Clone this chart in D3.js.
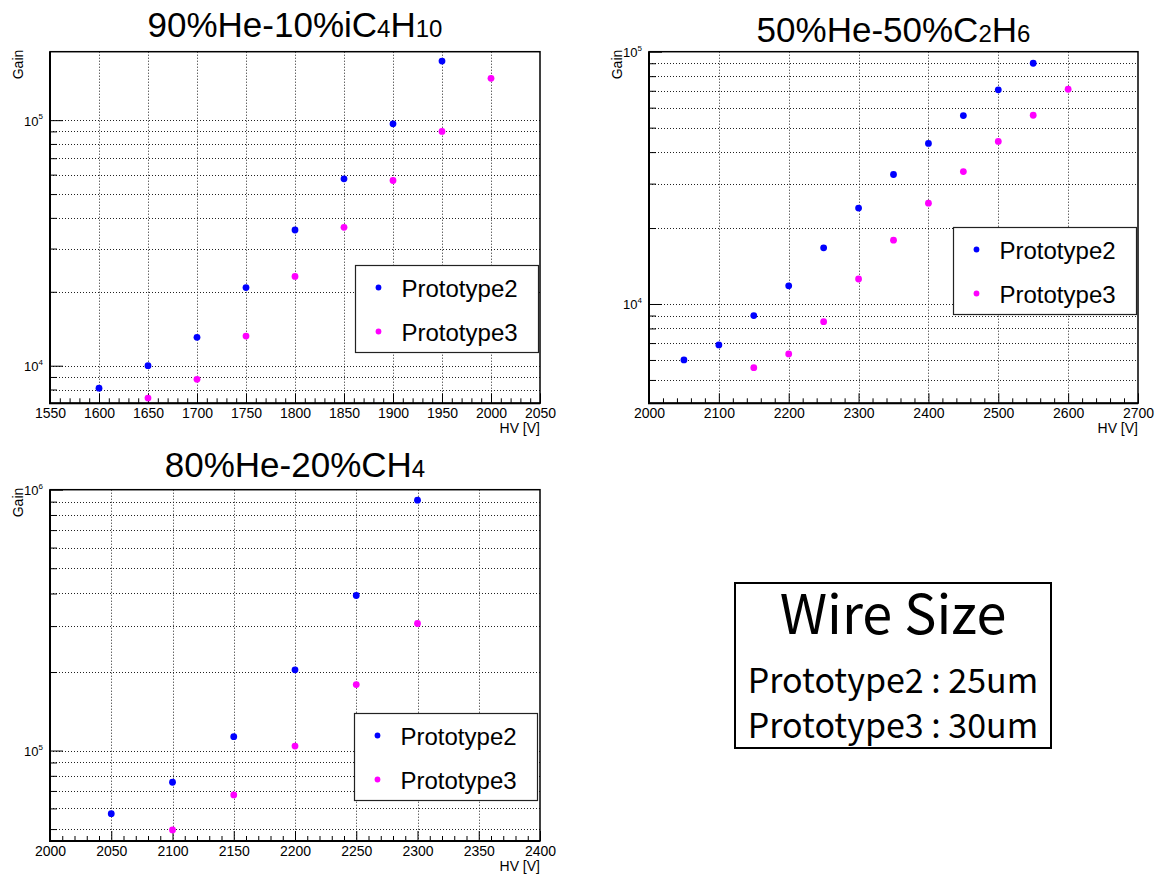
<!DOCTYPE html>
<html>
<head>
<meta charset="utf-8">
<script src="https://cdn.jsdelivr.net/npm/d3@7"></script>
<style>
  html, body { margin: 0; padding: 0; background: #fff; }
  svg { display: block; }
</style>
</head>
<body>
<svg id="chart" width="1163" height="878"></svg>
<script>
// ---- 90%He-10%iC4H10 ----
const hvIso2   = [1600, 1650, 1700, 1750, 1800, 1850, 1900, 1950];
const gainIso2 = [8.1e3, 1.0e4, 1.305e4, 2.08e4, 3.57e4, 5.77e4, 9.66e4, 1.74e5];
const hvIso3   = [1650, 1700, 1750, 1800, 1850, 1900, 1950, 2000];
const gainIso3 = [7.38e3, 8.8e3, 1.32e4, 2.31e4, 3.66e4, 5.68e4, 9.0e4, 1.48e5];

// ---- 50%He-50%C2H6 ----
const hvEth2   = [2050, 2100, 2150, 2200, 2250, 2300, 2350, 2400, 2450, 2500, 2550];
const gainEth2 = [6.0e3, 6.88e3, 9.0e3, 1.18e4, 1.67e4, 2.4e4, 3.26e4, 4.33e4, 5.58e4, 7.06e4, 9.0e4];
const hvEth3   = [2150, 2200, 2250, 2300, 2350, 2400, 2450, 2500, 2550, 2600];
const gainEth3 = [5.59e3, 6.34e3, 8.51e3, 1.256e4, 1.79e4, 2.51e4, 3.35e4, 4.41e4, 5.6e4, 7.1e4];

// ---- 80%He-20%CH4 ----
const hvMet2   = [2050, 2100, 2150, 2200, 2250, 2300];
const gainMet2 = [5.73e4, 7.56e4, 1.13e5, 2.04e5, 3.93e5, 9.12e5];
const hvMet3   = [2100, 2150, 2200, 2250, 2300];
const gainMet3 = [4.96e4, 6.76e4, 1.04e5, 1.79e5, 3.07e5];

// axis ranges and tick steps
const hvRangeIso = [1550, 2050], gainRangeIso = [7.03e3, 1.9e5], hvStepIso = [50, 10];
const hvRangeEth = [2000, 2700], gainRangeEth = [4.04e3, 1.0e5], hvStepEth = [100, 20];
const hvRangeMet = [2000, 2400], gainRangeMet = [4.5e4, 1.0e6], hvStepMet = [50, 10];

// series / legend labels
const seriesNames  = ["Prototype2", "Prototype3"];
const seriesColors = ["#0000ff", "#ff00ff"];

// note box text
const noteTitle = "Wire Size";
const noteLines = ["Prototype2 : 25um", "Prototype3 : 30um"];

const svg = d3.select("#chart");
const axisFont = "'Liberation Sans', Arial, Helvetica, sans-serif";
const noteFont = "'Noto Sans CJK JP', 'Liberation Sans', sans-serif";

function drawPanel(o) {
  const g = svg.append("g");
  const x = d3.scaleLinear().domain(o.hvRange).range([o.left, o.right]);
  const y = d3.scaleLog().domain(o.gainRange).range([o.bottom, o.top]);

  const [major, minor] = o.step;
  const majorX = d3.range(o.hvRange[0], o.hvRange[1] + 0.001, major);
  const allX = d3.range(o.hvRange[0], o.hvRange[1] + 0.001, minor);
  const minorX = allX.filter(v => (v - o.hvRange[0]) % major !== 0);
  const yTicks = y.ticks();
  const isDecade = v => Math.abs(Math.log10(v) - Math.round(Math.log10(v))) < 1e-9;
  const decades = yTicks.filter(isDecade);
  const yMinor = yTicks.filter(v => !isDecade(v));

  // white background
  g.append("rect").attr("x", o.left).attr("y", o.top)
    .attr("width", o.right - o.left).attr("height", o.bottom - o.top)
    .attr("fill", "#fff");

  // dotted grid
  const grid = g.append("g").attr("stroke", "#222").attr("stroke-width", 1)
    .attr("stroke-dasharray", "1,2");
  grid.selectAll("line.gx").data(majorX.filter(v => v > o.hvRange[0] && v < o.hvRange[1]))
    .join("line").attr("class", "gx")
    .attr("x1", d => Math.round(x(d)) + 0.5).attr("x2", d => Math.round(x(d)) + 0.5)
    .attr("y1", o.top).attr("y2", o.bottom);
  grid.selectAll("line.gy").data(yTicks.filter(v => y(v) > o.top + 1 && y(v) < o.bottom - 1))
    .join("line").attr("class", "gy")
    .attr("x1", o.left).attr("x2", o.right)
    .attr("y1", d => Math.round(y(d)) + 0.5).attr("y2", d => Math.round(y(d)) + 0.5);

  // x axis: minor ticks, then major ticks with labels
  const xMinorAxis = d3.axisBottom(x).tickValues(minorX).tickSize(-5).tickFormat("");
  const xMajorAxis = d3.axisBottom(x).tickValues(majorX).tickSize(-10).tickPadding(5)
    .tickFormat(d3.format("d"));
  const gxm = g.append("g").attr("transform", `translate(0,${o.bottom})`).call(xMinorAxis);
  const gxM = g.append("g").attr("transform", `translate(0,${o.bottom})`).call(xMajorAxis);
  [gxm, gxM].forEach(a => {
    a.select(".domain").remove();
    a.selectAll("line").attr("stroke", "#000").attr("stroke-width", 1);
  });
  gxM.selectAll("text").attr("font-family", axisFont).attr("font-size", 14).attr("fill", "#000");

  // y axis: minor ticks, then decade ticks with power-of-ten labels
  const yMinorAxis = d3.axisLeft(y).tickValues(yMinor).tickSize(-7).tickFormat("");
  const yMajorAxis = d3.axisLeft(y).tickValues(decades).tickSize(-13).tickPadding(7)
    .tickFormat("");
  const gym = g.append("g").attr("transform", `translate(${o.left},0)`).call(yMinorAxis);
  const gyM = g.append("g").attr("transform", `translate(${o.left},0)`).call(yMajorAxis);
  [gym, gyM].forEach(a => {
    a.select(".domain").remove();
    a.selectAll("line").attr("stroke", "#000").attr("stroke-width", 1);
  });
  gyM.selectAll(".tick text").each(function (d) {
    const t = d3.select(this)
      .attr("font-family", axisFont).attr("font-size", 13).attr("fill", "#000")
      .attr("dy", "0.38em");
    t.text("10");
    t.append("tspan").attr("font-size", 8).attr("dy", "-0.8em")
      .text(Math.round(Math.log10(d)));
  });

  // frame
  g.append("rect").attr("x", o.left).attr("y", o.top)
    .attr("width", o.right - o.left).attr("height", o.bottom - o.top)
    .attr("fill", "none").attr("stroke", "#000").attr("stroke-width", 1.5);
  g.append("path")
    .attr("d", `M${o.left},${o.top}V${o.bottom}H${o.right}`)
    .attr("fill", "none").attr("stroke", "#000").attr("stroke-width", 2);

  // axis titles
  g.append("text").attr("x", o.right).attr("y", o.bottom + 30)
    .attr("text-anchor", "end").attr("font-family", axisFont).attr("font-size", 14)
    .text("HV [V]");
  g.append("text")
    .attr("transform", `translate(${o.gainX},${o.top - 2}) rotate(-90)`)
    .attr("text-anchor", "end").attr("font-family", axisFont).attr("font-size", 14)
    .text("Gain");

  // data markers
  o.series.forEach((s, i) => {
    g.append("g").attr("fill", seriesColors[i])
      .selectAll("circle").data(d3.zip(s[0], s[1])).join("circle")
      .attr("cx", d => x(d[0])).attr("cy", d => y(d[1])).attr("r", 3.4);
  });

  // legend
  const lg = g.append("g");
  lg.append("rect").attr("x", o.legend[0]).attr("y", o.legend[1])
    .attr("width", 183).attr("height", 87)
    .attr("fill", "#fff").attr("stroke", "#222").attr("stroke-width", 1.2);
  seriesNames.forEach((name, i) => {
    const cy = o.legend[1] + 22 + i * 44;
    lg.append("circle").attr("cx", o.legend[0] + 23).attr("cy", cy).attr("r", 2.9)
      .attr("fill", seriesColors[i]);
    lg.append("text").attr("x", o.legend[0] + 46).attr("y", cy + 9)
      .attr("font-family", axisFont).attr("font-size", 24).attr("fill", "#000")
      .text(name);
  });

  // panel title with subscripts
  const tt = g.append("text").attr("x", (o.left + o.right) / 2).attr("y", o.titleY)
    .attr("text-anchor", "middle").attr("font-family", axisFont)
    .attr("font-size", 35).attr("fill", "#000");
  o.title.forEach(([txt, sub]) => {
    tt.append("tspan").attr("font-size", sub ? 24 : 35).text(txt);
  });
}

drawPanel({
  hvRange: hvRangeIso, gainRange: gainRangeIso, step: hvStepIso,
  left: 50, right: 540, top: 51.7, bottom: 403.3, gainX: 23,
  series: [[hvIso2, gainIso2], [hvIso3, gainIso3]],
  legend: [355.5, 265.5],
  title: [["90%He-10%iC", false], ["4", true], ["H", false], ["10", true]],
  titleY: 37
});

drawPanel({
  hvRange: hvRangeEth, gainRange: gainRangeEth, step: hvStepEth,
  left: 649, right: 1138, top: 51.7, bottom: 403.3, gainX: 622,
  series: [[hvEth2, gainEth2], [hvEth3, gainEth3]],
  legend: [953.5, 227.5],
  title: [["50%He-50%C", false], ["2", true], ["H", false], ["6", true]],
  titleY: 42
});

drawPanel({
  hvRange: hvRangeMet, gainRange: gainRangeMet, step: hvStepMet,
  left: 50, right: 540, top: 489.7, bottom: 841, gainX: 23,
  series: [[hvMet2, gainMet2], [hvMet3, gainMet3]],
  legend: [354.5, 713.5],
  title: [["80%He-20%CH", false], ["4", true]],
  titleY: 477
});

// note box
const note = svg.append("g");
note.append("rect").attr("x", 735).attr("y", 583).attr("width", 316).attr("height", 165)
  .attr("fill", "#fff").attr("stroke", "#000").attr("stroke-width", 2);
note.append("text").attr("x", 893).attr("y", 634).attr("text-anchor", "middle")
  .attr("font-family", noteFont).attr("font-size", 54).attr("fill", "#000")
  .text(noteTitle);
noteLines.forEach((line, i) => {
  note.append("text").attr("x", 893).attr("y", 693 + i * 45).attr("text-anchor", "middle")
    .attr("font-family", noteFont).attr("font-size", 34).attr("fill", "#000")
    .text(line);
});
</script>
</body>
</html>
